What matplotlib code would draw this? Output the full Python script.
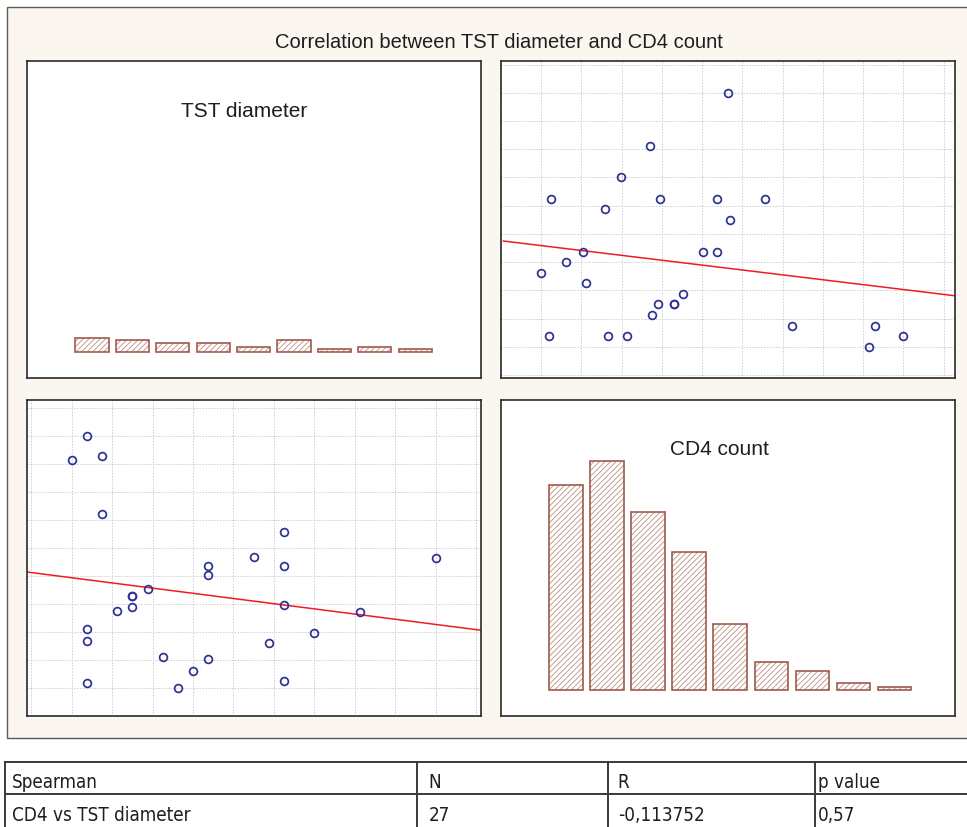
import numpy as np
import matplotlib
matplotlib.use('Agg')
import matplotlib.pyplot as plt
from matplotlib.patches import Rectangle
from matplotlib.lines import Line2D

# --- data ---
tst_diameter = [0, 1, 1, 1, 1, 2, 2, 3, 4, 4, 4, 5, 6, 7, 8, 9, 9, 9,
                12, 13, 14, 14, 14, 14, 16, 19, 24]
cd4_count = [815, 900, 212, 166, 19, 829, 622, 276, 329, 329, 289, 352, 110, 0, 62,
             436, 403, 103, 468, 159, 557, 436, 296, 24, 198, 271, 464]
# histogram heights (relative, % of tallest CD4 bar)
tst_hist = [6.1, 5.2, 3.8, 3.8, 2.2, 5.2, 1.4, 2.2, 1.4]
cd4_hist = [89.5, 100, 77.8, 60.3, 28.8, 12.2, 8.5, 2.9, 1.2]

title = 'Correlation between TST diameter and CD4 count'
table_header = ['Spearman', 'N', 'R', 'p value']
table_row = ['CD4 vs TST diameter', '27', '-0,113752', '0,57']

# --- style ---
W, H = 967, 828
cream = '#fbf7f0'
navy = '#2e3192'
red = '#ed1c24'
brown = '#a05a4b'
hatch_col = '#bb8f83'
txt = '#1e1e1e'
plt.rcParams['hatch.linewidth'] = 0.6

fig = plt.figure(figsize=(W / 100, H / 100), dpi=100)
fig.patch.set_facecolor('white')


def box(x0, y0, x1, y1):
    # pixel box -> figure fraction
    return [x0 / W, 1 - y1 / H, (x1 - x0) / W, (y1 - y0) / H]


def fy(y):
    return 1 - y / H


# outer cream frame
fig.add_artist(Rectangle((7 / W, fy(739)), (975 - 7) / W, (739 - 8) / H,
                         transform=fig.transFigure, facecolor=cream,
                         edgecolor='#5a5a5a', lw=1.0, zorder=0))

fig.text(498.5 / W, fy(47.7), title, ha='center', va='baseline',
         fontsize=14.5, family=['Liberation Sans', 'DejaVu Sans'], color=txt)

ax_tl = fig.add_axes(box(27, 62, 481, 379))
ax_tr = fig.add_axes(box(501, 62, 955, 379))
ax_bl = fig.add_axes(box(27, 401, 481, 717))
ax_br = fig.add_axes(box(501, 401, 955, 717))

tst = np.array(tst_diameter, dtype=float)
cd4 = np.array(cd4_count, dtype=float)
tst_lim = (-2.95, 27.0)
cd4_lim = (-94, 1028)
tst_step = (tst.max() - tst.min()) / 9
cd4_step = (cd4.max() - cd4.min()) / 9
tst_grid = tst.min() + tst_step * np.arange(-1, 11)
cd4_grid = cd4.min() + cd4_step * np.arange(-1, 11)

for ax in (ax_tl, ax_tr, ax_bl, ax_br):
    ax.set_facecolor('white')
    ax.tick_params(length=0, labelbottom=False, labelleft=False)
    for s in ax.spines.values():
        s.set_linewidth(1.2)
        s.set_color('#2a2a2a')
    ax.set_zorder(2)


def scatter_panel(ax, x, y, xlim, ylim, xg, yg):
    ax.set_xlim(*xlim)
    ax.set_ylim(*ylim)
    ax.set_xticks(xg)
    ax.set_yticks(yg)
    ax.grid(True, color='#cdcdcd', lw=0.7, ls=(0, (1.5, 1.5)))
    ax.set_axisbelow(True)
    ax.plot(x, y, 'o', ms=5.6, mfc='none', mec=navy, mew=1.25, zorder=3)
    k, b = np.polyfit(x, y, 1)
    xs = np.array(xlim)
    ax.plot(xs, k * xs + b, color=red, lw=1.1, zorder=2)


scatter_panel(ax_tr, cd4, tst, cd4_lim, tst_lim, cd4_grid, tst_grid)
scatter_panel(ax_bl, tst, cd4, tst_lim, cd4_lim, tst_grid, cd4_grid)


def hist_panel(ax, pos, heights, width):
    ax.set_ylim(-11.33, 126.4)
    ax.bar(pos, heights, width=width, color='white', edgecolor=hatch_col,
           hatch='//////', lw=0, zorder=2)
    ax.bar(pos, heights, width=width, fill=False, edgecolor=brown, lw=1.2, zorder=3)


# TST histogram shares the TST scale
tst_centers = tst.min() + tst_step * (np.arange(len(tst_hist)) + 0.5)
ax_tl.set_xlim(*tst_lim)
hist_panel(ax_tl, tst_centers, tst_hist, tst_step * 0.82)
ax_tl.text(0.478, 0.8256, 'TST diameter', transform=ax_tl.transAxes, ha='center',
           va='baseline', fontsize=15, family=['Liberation Sans', 'DejaVu Sans'], color=txt)

cd4_pos = np.arange(len(cd4_hist))
ax_br.set_xlim(-1.577, 9.47)
hist_panel(ax_br, cd4_pos, cd4_hist, 0.815)
ax_br.text(0.482, 0.830, 'CD4 count', transform=ax_br.transAxes, ha='center',
           va='baseline', fontsize=15, family=['Liberation Sans', 'DejaVu Sans'], color=txt)

# --- Spearman table below ---
line_col = '#3a3a3a'
for y in (763.0, 794.5):
    fig.add_artist(Line2D([5 / W, 1.0], [fy(y), fy(y)], transform=fig.transFigure,
                          color=line_col, lw=1.4))
for x in (5, 416.7, 608.3, 815):
    fig.add_artist(Line2D([x / W, x / W], [fy(763.0), fy(830)], transform=fig.transFigure,
                          color=line_col, lw=1.4))

col_x = [12.2, 428.3, 617.7, 818.3]
for cx, h, r in zip(col_x, table_header, table_row):
    fig.text(cx / W, fy(788.5), h, ha='left', va='baseline', fontsize=13.5,
             family='DejaVu Sans', fontstretch='condensed', color=txt)
    fig.text(cx / W, fy(821.5), r, ha='left', va='baseline', fontsize=13.5,
             family='DejaVu Sans', fontstretch='condensed', color=txt)

fig.savefig('out.png', dpi=100)
